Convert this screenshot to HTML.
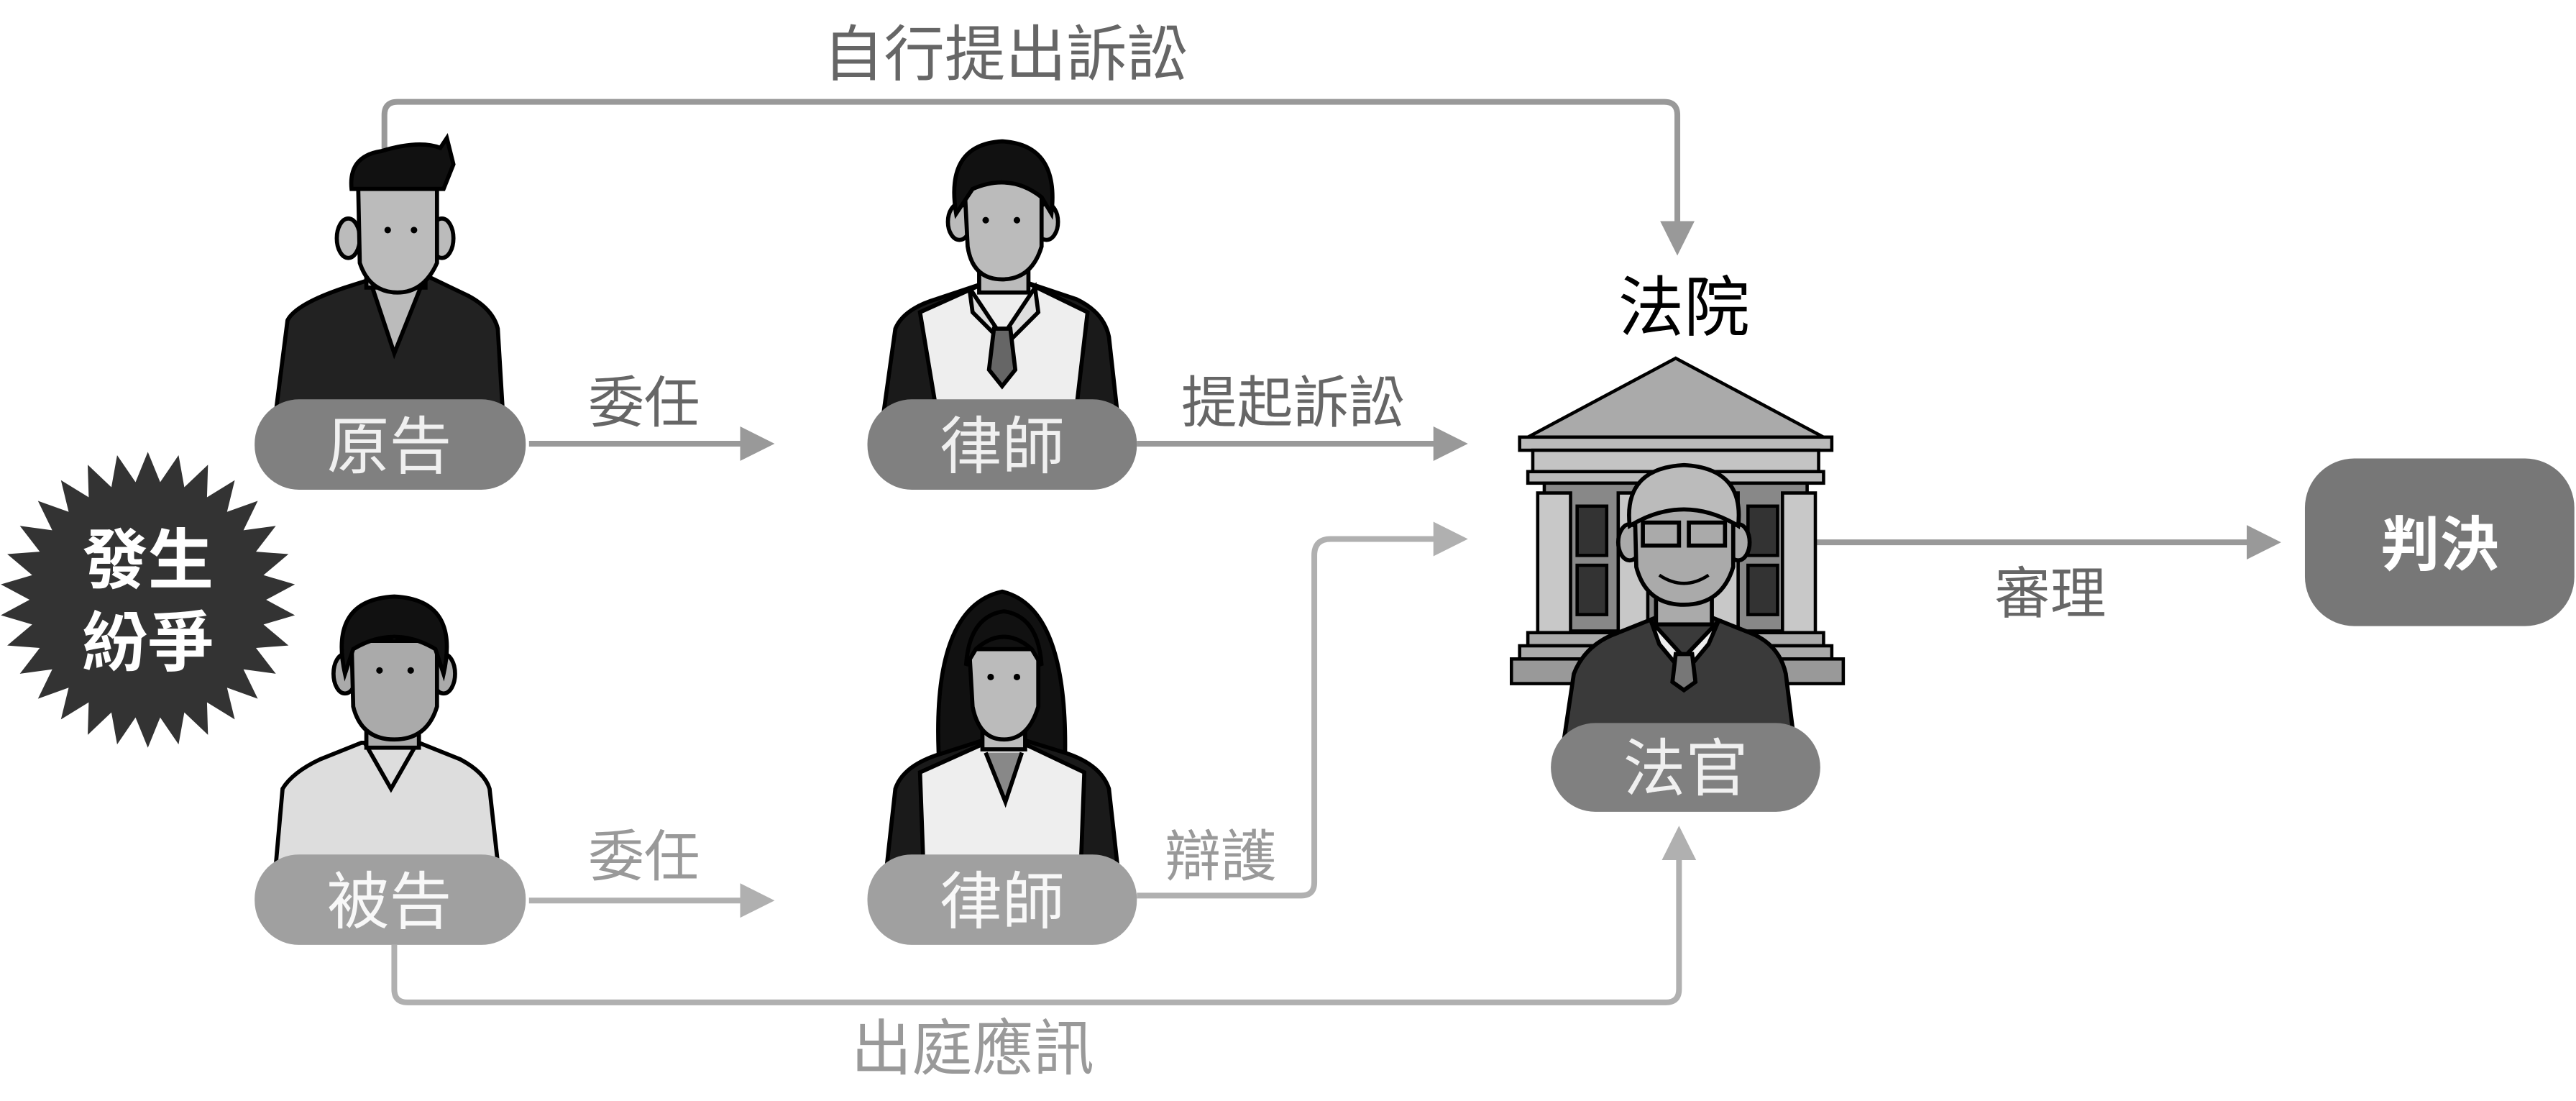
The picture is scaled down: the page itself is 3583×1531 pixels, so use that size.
<!DOCTYPE html>
<html><head><meta charset="utf-8"><style>
html,body{margin:0;padding:0;background:#fff;}
svg{display:block;}
text{font-family:"Liberation Sans","Noto Sans CJK TC",sans-serif;}
</style></head><body>
<svg width="3583" height="1531" viewBox="0 0 1568 670" preserveAspectRatio="none" xmlns="http://www.w3.org/2000/svg">
<defs>
<marker id="a1" markerWidth="6" markerHeight="6" refX="5" refY="3" orient="auto" markerUnits="strokeWidth"><path d="M0,0 L6,3 L0,6z" fill="#999"/></marker>
<marker id="a2" markerWidth="6" markerHeight="6" refX="5" refY="3" orient="auto" markerUnits="strokeWidth"><path d="M0,0 L6,3 L0,6z" fill="#b0b0b0"/></marker>
</defs>

<!-- connectors -->
<path d="M234,110 V70 Q234,62 242,62 H1013 Q1021,62 1021,70 V152" fill="none" stroke="#999" stroke-width="3.5" marker-end="url(#a1)"/>
<path d="M322,270 H468" fill="none" stroke="#999" stroke-width="3.5" marker-end="url(#a1)"/>
<path d="M692,270 H890" fill="none" stroke="#999" stroke-width="3.5" marker-end="url(#a1)"/>
<path d="M1105,330 H1385" fill="none" stroke="#999" stroke-width="3.5" marker-end="url(#a1)"/>
<path d="M322,548 H468" fill="none" stroke="#b0b0b0" stroke-width="3.5" marker-end="url(#a2)"/>
<path d="M692,545 H792 Q800,545 800,537 V338 Q800,328 810,328 H890" fill="none" stroke="#b0b0b0" stroke-width="3.5" marker-end="url(#a2)"/>
<path d="M240,575 V602 Q240,610 248,610 H1014 Q1022,610 1022,602 V506" fill="none" stroke="#b0b0b0" stroke-width="3.5" marker-end="url(#a2)"/>

<!-- labels -->
<text x="612" y="46" font-size="37" fill="#666" text-anchor="middle">自行提出訴訟</text>
<text x="392" y="257" font-size="34" fill="#666" text-anchor="middle">委任</text>
<text x="787" y="257" font-size="34" fill="#666" text-anchor="middle">提起訴訟</text>
<text x="1025" y="201" font-size="40" fill="#000" text-anchor="middle">法院</text>
<text x="1248" y="373" font-size="34" fill="#666" text-anchor="middle">審理</text>
<text x="392" y="533" font-size="34" fill="#999" text-anchor="middle">委任</text>
<text x="743" y="533" font-size="34" fill="#999" text-anchor="middle">辯護</text>
<text x="592" y="651" font-size="37" fill="#999" text-anchor="middle">出庭應訊</text>

<!-- burst -->
<polygon id="burst" fill="#333" points=""/>
<text x="90" y="355" font-size="40" font-weight="bold" fill="#fff" text-anchor="middle">發生</text>
<text x="90" y="405" font-size="40" font-weight="bold" fill="#fff" text-anchor="middle">紛爭</text>

<!-- plaintiff -->
<g stroke="#000" stroke-width="2.5">
<path d="M168,250 L175,195 Q180,185 210,175 L232,168 H260 L285,180 Q300,188 303,200 L306,250 Z" fill="#222"/>
<path d="M225,170 L240,215 L258,170 Z" fill="#bbb"/>
<rect x="223" y="150" width="36" height="25" fill="#bbb"/>
<ellipse cx="212" cy="145" rx="7" ry="12" fill="#bbb"/><ellipse cx="269" cy="145" rx="7" ry="12" fill="#bbb"/>
<path d="M218,112 H266 V160 Q258,178 242,178 Q225,178 219,160 Z" fill="#bbb"/>
<path d="M214,115 Q212,95 232,92 Q255,85 268,90 L272,84 L276,100 L270,115 Z" fill="#111"/>
</g>
<circle cx="236" cy="140" r="2" fill="#000"/><circle cx="252" cy="140" r="2" fill="#000"/>

<!-- lawyer top -->
<g stroke="#000" stroke-width="2.5">
<path d="M538,250 L545,200 Q550,188 570,182 L600,172 H625 L655,182 Q672,190 675,205 L680,250 Z" fill="#1a1a1a"/>
<path d="M560,190 L600,172 H625 L662,190 L655,250 H570 Z" fill="#eee"/>
<path d="M590,175 L610,205 L630,175 L632,190 L612,210 L592,190Z" fill="#ddd"/>
<path d="M605,200 L615,200 L618,225 L610,235 L602,225Z" fill="#666"/>
<rect x="596" y="150" width="30" height="28" fill="#bbb"/>
<ellipse cx="584" cy="135" rx="7" ry="11" fill="#bbb"/><ellipse cx="637" cy="135" rx="7" ry="11" fill="#bbb"/>
<path d="M587,110 H634 V150 Q628,170 610,170 Q592,170 589,150 Z" fill="#bbb"/>
<path d="M582,130 Q575,88 610,86 Q645,88 640,130 L634,120 Q615,105 592,115 Z" fill="#111"/>
</g>
<circle cx="600" cy="134" r="2" fill="#000"/><circle cx="619" cy="134" r="2" fill="#000"/>

<!-- defendant -->
<g stroke="#000" stroke-width="2.5">
<path d="M168,525 L172,480 Q178,470 195,462 L220,452 H255 L280,462 Q295,470 298,480 L303,525 Z" fill="#ddd"/>
<path d="M222,452 L238,480 L254,452" fill="none"/>
<rect x="223" y="430" width="32" height="25" fill="#aaa"/>
<ellipse cx="210" cy="410" rx="7" ry="12" fill="#aaa"/><ellipse cx="270" cy="410" rx="7" ry="12" fill="#aaa"/>
<path d="M214,390 H266 V430 Q260,450 240,450 Q220,450 215,430 Z" fill="#aaa"/>
<path d="M210,410 Q200,365 240,363 Q280,365 270,410 L265,395 Q240,380 215,395 Z" fill="#111"/>
</g>
<circle cx="231" cy="408" r="2" fill="#000"/><circle cx="250" cy="408" r="2" fill="#000"/>

<!-- female lawyer -->
<g stroke="#000" stroke-width="2.5">
<path d="M572,470 Q565,370 610,360 Q652,370 648,470 Z" fill="#111"/>
<path d="M540,525 L545,480 Q550,465 575,458 L600,450 H622 L648,458 Q670,465 675,480 L680,525 Z" fill="#1a1a1a"/>
<path d="M560,470 L600,452 H622 L660,470 L658,525 H562 Z" fill="#eee"/>
<path d="M600,458 L612,488 L622,458" fill="#888"/>
<rect x="598" y="430" width="26" height="26" fill="#bbb"/>
<path d="M590,395 H632 V430 Q626,450 611,450 Q596,450 592,430 Z" fill="#bbb"/>
<path d="M588,405 Q590,375 611,372 Q632,375 634,405 L628,395 Q611,380 594,395 Z" fill="#111"/>
</g>
<circle cx="603" cy="412" r="2" fill="#000"/><circle cx="619" cy="412" r="2" fill="#000"/>

<!-- pills -->
<rect x="155" y="243" width="165" height="55" rx="27" fill="#808080"/>
<text x="237" y="285" font-size="38" fill="#f0f0f0" text-anchor="middle">原告</text>
<rect x="528" y="243" width="164" height="55" rx="27" fill="#808080"/>
<text x="610" y="285" font-size="38" fill="#f0f0f0" text-anchor="middle">律師</text>
<rect x="155" y="520" width="165" height="55" rx="27" fill="#a0a0a0"/>
<text x="237" y="562" font-size="38" fill="#f8f8f8" text-anchor="middle">被告</text>
<rect x="528" y="520" width="164" height="55" rx="27" fill="#a0a0a0"/>
<text x="610" y="562" font-size="38" fill="#f8f8f8" text-anchor="middle">律師</text>

<!-- courthouse -->
<g stroke="#000" stroke-width="2">
<path d="M1020,218 L1110,266 H930 Z" fill="#aaa"/>
<rect x="925" y="266" width="190" height="8" fill="#bbb"/>
<rect x="933" y="274" width="174" height="13" fill="#c4c4c4"/>
<rect x="930" y="287" width="180" height="7" fill="#bbb"/>
<rect x="940" y="294" width="160" height="90" fill="#888"/>
<rect x="936" y="300" width="20" height="85" fill="#c8c8c8"/>
<rect x="1085" y="300" width="20" height="85" fill="#c8c8c8"/>
<rect x="985" y="300" width="18" height="85" fill="#c8c8c8"/>
<rect x="1040" y="300" width="18" height="85" fill="#c8c8c8"/>
<rect x="960" y="308" width="18" height="30" fill="#333"/><rect x="960" y="344" width="18" height="30" fill="#333"/>
<rect x="1064" y="308" width="18" height="30" fill="#333"/><rect x="1064" y="344" width="18" height="30" fill="#333"/>
<rect x="930" y="385" width="180" height="8" fill="#aaa"/>
<rect x="925" y="393" width="190" height="8" fill="#aaa"/>
<rect x="920" y="401" width="202" height="15" fill="#999"/>
</g>
<!-- judge -->
<g stroke="#000" stroke-width="2.5">
<path d="M952,450 L958,410 Q965,392 985,385 L1010,375 H1040 L1065,385 Q1083,392 1087,410 L1092,450 Z" fill="#3a3a3a"/>
<path d="M1005,378 L1025,400 L1046,378 L1040,392 L1025,410 L1010,392Z" fill="#eee"/>
<path d="M1020,398 H1030 L1032,415 L1025,420 L1018,415Z" fill="#777"/>
<rect x="1008" y="350" width="34" height="30" fill="#aaa"/>
<ellipse cx="992" cy="330" rx="7" ry="11" fill="#aaa"/><ellipse cx="1058" cy="330" rx="7" ry="11" fill="#aaa"/>
<path d="M995,305 H1055 V345 Q1048,368 1025,368 Q1002,368 996,345 Z" fill="#aaa"/>
<path d="M992,320 Q988,285 1025,283 Q1062,285 1058,320 Q1025,300 992,320Z" fill="#bbb"/>
<rect x="1000" y="318" width="22" height="14" fill="none"/><rect x="1028" y="318" width="22" height="14" fill="none"/>
</g>
<path d="M1010,350 Q1025,360 1040,350" fill="none" stroke="#000" stroke-width="2"/>
<rect x="944" y="440" width="164" height="54" rx="27" fill="#808080"/>
<text x="1026" y="481" font-size="38" fill="#f0f0f0" text-anchor="middle">法官</text>

<!-- verdict -->
<rect x="1403" y="279" width="164" height="102" rx="30" fill="#777"/>
<text x="1485" y="344" font-size="36" font-weight="bold" fill="#fff" text-anchor="middle">判決</text>
</svg>
<script>
(function(){var cx=90,cy=365,n=30,pts=[];for(var i=0;i<n*2;i++){var r=i%2?72:90;var a=Math.PI*i/n-Math.PI/2;pts.push((cx+r*Math.cos(a)).toFixed(1)+","+(cy+r*Math.sin(a)).toFixed(1));}document.getElementById("burst").setAttribute("points",pts.join(" "));})();
</script>
</body></html>
